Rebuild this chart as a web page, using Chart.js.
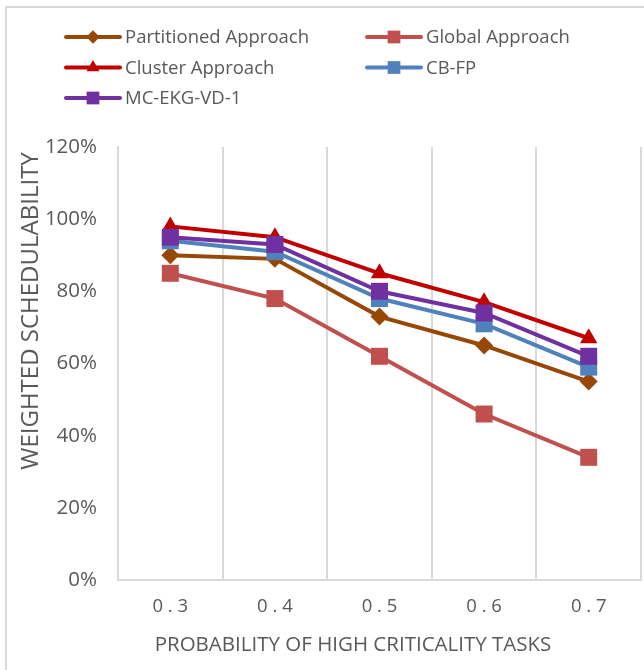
<!DOCTYPE html>
<html>
<head>
<meta charset="utf-8">
<script src="https://cdn.jsdelivr.net/npm/chart.js@4/dist/chart.umd.min.js"></script>
<style>
  html, body { margin: 0; padding: 0; background: #fff; }
  #wrap { width: 644px; height: 670px; }
</style>
</head>
<body>
<div id="wrap"><canvas id="chart" width="644" height="670"></canvas></div>
<script>
// вероятности задач высокой критичности (ось X)
const probabilities = ['0.3', '0.4', '0.5', '0.6', '0.7'];

// взвешенная планируемость, %
const partitioned = [90, 89, 73, 65, 55];
const globalApproach = [85, 78, 62, 46, 34];
const cluster = [98, 95, 85, 77, 67];
const cbfp = [94, 91, 78, 71, 59];
const mcEkg = [95, 93, 80, 74, 62];

// подписи осей
const xTitle = 'PROBABILITY OF HIGH CRITICALITY TASKS';
const yTitle = 'WEIGHTED SCHEDULABILITY';

const FONT = '"Open Sans", sans-serif';
const TEXT = '#595959';
const GRID = '#d9d9d9';

function series(label, data, color, style, radius) {
    return {
        label: label,
        data: data,
        borderColor: color,
        backgroundColor: color,
        pointBackgroundColor: color,
        pointBorderColor: color,
        pointBorderWidth: 0,
        pointStyle: style,
        pointRadius: radius,
        pointHoverRadius: radius,
        borderWidth: 4,
        tension: 0
    };
}

const datasets = [
    series('Partitioned Approach', partitioned, '#974706', 'rectRot', 9),
    series('Global Approach', globalApproach, '#c0504d', 'rect', 12),
    series('Cluster Approach', cluster, '#c00000', 'triangle', 10),
    series('CB-FP', cbfp, '#4f81bd', 'rect', 12),
    series('MC-EKG-VD-1', mcEkg, '#7030a0', 'rect', 12)
];
// последние серии рисуются поверх первых
datasets.forEach((d, i) => { d.order = datasets.length - i; });

/** Рамка вокруг всей диаграммы */
const framePlugin = {
    id: 'frame',
    beforeDraw(chart) {
        const ctx = chart.ctx;
        ctx.save();
        ctx.fillStyle = '#fff';
        ctx.fillRect(0, 0, chart.width, chart.height);
        ctx.strokeStyle = GRID;
        ctx.lineWidth = 2;
        ctx.beginPath();
        ctx.moveTo(6, chart.height);
        ctx.lineTo(6, 7);
        ctx.lineTo(chart.width, 7);
        ctx.stroke();
        ctx.restore();
    }
};

/** Заголовки осей: центрированы по всей диаграмме, а не по области графика */
const titlesPlugin = {
    id: 'axisTitles',
    afterDraw(chart) {
        const ctx = chart.ctx;
        ctx.save();
        ctx.fillStyle = TEXT;
        ctx.textAlign = 'center';
        ctx.textBaseline = 'middle';
        ctx.font = '20.5px ' + FONT;
        ctx.fillText(xTitle, 353, 645);
        ctx.translate(31, 311);
        ctx.rotate(-Math.PI / 2);
        ctx.font = '24px ' + FONT;
        ctx.fillText(yTitle, 0, 0);
        ctx.restore();
    }
};

/** Легенда в две колонки над графиком */
const legendPlugin = {
    id: 'twoColLegend',
    afterDraw(chart) {
        const ctx = chart.ctx;
        ctx.save();
        chart.data.datasets.forEach((ds, i) => {
            const x0 = i % 2 === 0 ? 66 : 367;
            const y = 37 + Math.floor(i / 2) * 30.5;
            ctx.strokeStyle = ds.borderColor;
            ctx.lineWidth = 4;
            ctx.lineCap = 'round';
            ctx.beginPath();
            ctx.moveTo(x0, y);
            ctx.lineTo(x0 + 54, y);
            ctx.stroke();
            ctx.fillStyle = ds.pointBackgroundColor;
            ctx.strokeStyle = ds.pointBorderColor;
            Chart.helpers.drawPoint(ctx, {
                pointStyle: ds.pointStyle,
                radius: ds.pointRadius * 0.75,
                rotation: 0,
                borderWidth: 0
            }, x0 + 27, y);
            ctx.fillStyle = TEXT;
            ctx.font = '18.5px ' + FONT;
            ctx.textBaseline = 'middle';
            ctx.textAlign = 'left';
            ctx.fillText(ds.label, x0 + 59, y + 1);
        });
        ctx.restore();
    }
};

new Chart(document.getElementById('chart'), {
    type: 'line',
    data: { labels: probabilities, datasets: datasets },
    plugins: [framePlugin, titlesPlugin, legendPlugin],
    options: {
        responsive: false,
        animation: false,
        layout: { autoPadding: false, padding: { top: 147, right: 3, left: 0, bottom: 0 } },
        plugins: {
            legend: { display: false },
            tooltip: { enabled: false }
        },
        scales: {
            x: {
                offset: true,
                grid: { display: true, offset: true, color: GRID, lineWidth: 2, drawTicks: false },
                border: { display: true, color: GRID, width: 2 },
                ticks: {
                    color: TEXT,
                    font: { family: FONT, size: 18.5 },
                    padding: 16,
                    // символы подписи разнесены пробелами
                    callback: function (v) { return this.getLabelForValue(v).split('').join(' '); }
                },
                afterFit(scale) { scale.height = 90; }
            },
            y: {
                min: 0,
                max: 120,
                grid: { display: false, drawTicks: false },
                border: { display: true, color: GRID, width: 2 },
                ticks: {
                    stepSize: 20,
                    color: TEXT,
                    font: { family: FONT, size: 20.5 },
                    padding: 21,
                    callback: v => v + '%'
                },
                afterFit(scale) { scale.width = 118; }
            }
        }
    }
});
</script>
</body>
</html>
